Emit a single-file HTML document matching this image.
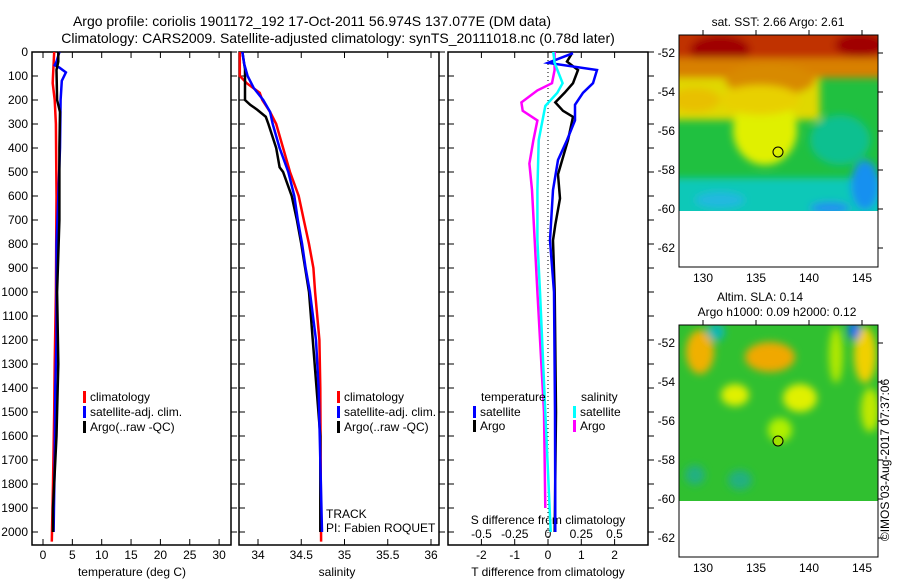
<!DOCTYPE html>
<html><head><meta charset="utf-8"><style>
body{margin:0;background:#fff;}
svg{display:block;font-family:"Liberation Sans",sans-serif;font-size:12px;}
</style></head><body>
<svg id="fig" width="900" height="580" viewBox="0 0 900 580" xmlns="http://www.w3.org/2000/svg">
<defs>
<filter id="blur1" x="-20%" y="-20%" width="140%" height="140%"><feGaussianBlur stdDeviation="4"/></filter>
<filter id="blur2" x="-20%" y="-20%" width="140%" height="140%"><feGaussianBlur stdDeviation="4"/></filter>
<clipPath id="c1"><rect x="679" y="35" width="199" height="176"/></clipPath>
<clipPath id="c2"><rect x="679" y="325" width="199" height="176"/></clipPath>
</defs>
<text x="312" y="26" text-anchor="middle" font-size="14">Argo profile: coriolis 1901172_192 17-Oct-2011 56.974S 137.077E (DM data)</text>
<text x="338" y="43" text-anchor="middle" font-size="14">Climatology: CARS2009. Satellite-adjusted climatology: synTS_20111018.nc (0.78d later)</text>

<!-- Map 1 -->
<g>
<g clip-path="url(#c1)">
<rect x="679" y="35" width="199" height="176" fill="#20c040"/>
<g filter="url(#blur1)">
<rect x="660" y="70" width="160" height="50" fill="#e0d800"/>
<rect x="660" y="20" width="240" height="40" fill="#c03000"/>
<ellipse cx="720" cy="50" rx="30" ry="15" fill="#a00000"/>
<ellipse cx="860" cy="45" rx="25" ry="12" fill="#a00000"/>
<rect x="660" y="58" width="240" height="20" fill="#d88000"/>
<ellipse cx="770" cy="80" rx="45" ry="16" fill="#d88a00"/>
<ellipse cx="765" cy="130" rx="32" ry="35" fill="#e0f000"/>
<ellipse cx="760" cy="100" rx="40" ry="15" fill="#e8d000"/>
<ellipse cx="695" cy="100" rx="25" ry="12" fill="#e8c000"/>
<rect x="660" y="178" width="240" height="45" fill="#10c8b8"/>
<ellipse cx="865" cy="185" rx="14" ry="25" fill="#1890f0"/>
<ellipse cx="840" cy="140" rx="30" ry="25" fill="#10c090"/>
<ellipse cx="830" cy="208" rx="20" ry="6" fill="#2090f0"/>
<ellipse cx="720" cy="200" rx="25" ry="8" fill="#20b8e0"/>
</g>
</g>
<circle cx="778" cy="152" r="5" fill="none" stroke="#000"/>
<rect x="679" y="35" width="199" height="232" fill="none" stroke="#000"/>
<text x="778" y="26" text-anchor="middle">sat. SST: 2.66 Argo: 2.61</text>
</g>
<!-- Map 2 -->
<g>
<g clip-path="url(#c2)">
<rect x="679" y="325" width="199" height="176" fill="#30c030"/>
<g filter="url(#blur2)">
<ellipse cx="700" cy="352" rx="14" ry="22" fill="#f0b000"/>
<ellipse cx="770" cy="357" rx="25" ry="15" fill="#f0a800"/>
<ellipse cx="735" cy="395" rx="14" ry="11" fill="#e0f000"/>
<ellipse cx="800" cy="398" rx="17" ry="14" fill="#e0f000"/>
<ellipse cx="780" cy="430" rx="12" ry="12" fill="#b0f000"/>
<ellipse cx="865" cy="355" rx="11" ry="28" fill="#f0d000"/>
<ellipse cx="836" cy="355" rx="7" ry="28" fill="#b0e800"/>
<ellipse cx="870" cy="410" rx="9" ry="22" fill="#c0e800"/>
<ellipse cx="716" cy="332" rx="9" ry="9" fill="#10b8b0"/>
<ellipse cx="854" cy="330" rx="6" ry="10" fill="#1070f0"/>
<ellipse cx="695" cy="475" rx="10" ry="10" fill="#20b080"/>
<ellipse cx="740" cy="480" rx="12" ry="10" fill="#20b080"/>
</g>
</g>
<circle cx="778" cy="441" r="5" fill="#a0e000" stroke="#000"/>
<rect x="679" y="325" width="199" height="232" fill="none" stroke="#000"/>
<text x="760" y="301" text-anchor="middle">Altim. SLA: 0.14</text>
<text x="777" y="316" text-anchor="middle">Argo h1000: 0.09 h2000: 0.12</text>
</g>
<text transform="translate(889,460) rotate(-90)" text-anchor="middle">©IMOS 03-Aug-2017 07:37:06</text>
<g id="g"></g>
</svg>
<script>
// ---- data ----
const depthTicks=[0,100,200,300,400,500,600,700,800,900,1000,1100,1200,1300,1400,1500,1600,1700,1800,1900,2000];
const tempTicks=[0,5,10,15,20,25,30];
const salTicks=[34,34.5,35,35.5,36];
const tdiffTicks=[-2,-1,0,1,2];
const sdiffTicks=[-0.5,-0.25,0,0.25,0.5];
const tempClimDepth=[0,100,130,200,300,600,1000,1300,1500,1800,2040];
const tempClim=[1.9,1.7,1.65,2.0,2.2,2.3,2.2,2.0,1.9,1.7,1.5];
const tempSatDepth=[0,40,55,65,85,120,200,400,600,800,1200,1400,1700,2000];
const tempSat=[2.8,2.3,2.0,2.8,3.9,3.2,3.0,2.9,2.6,2.3,2.3,2.1,2.0,1.8];
const tempArgoDepth=[0,40,75,200,250,400,700,1000,1300,1600,1900,2000];
const tempArgo=[2.6,2.6,2.3,2.4,2.9,2.8,2.8,2.4,2.6,2.3,1.7,1.7];
const salClimDepth=[0,100,130,170,200,250,300,400,500,600,700,800,900,1000,1200,1400,2040];
const salClim=[33.79,33.79,33.87,34.02,34.05,34.14,34.21,34.29,34.37,34.47,34.53,34.59,34.64,34.66,34.71,34.72,34.73];
const salSatDepth=[0,50,100,150,200,250,300,400,500,600,700,800,900,1000,1200,1400,2000];
const salSat=[33.82,33.84,33.88,33.95,34.06,34.14,34.17,34.25,34.35,34.42,34.46,34.51,34.55,34.6,34.67,34.7,34.74];
const salArgoDepth=[0,50,70,200,220,240,270,300,400,480,500,600,700,800,1000,1600,2000];
const salArgo=[33.82,33.84,33.85,33.85,33.91,33.99,34.09,34.12,34.21,34.25,34.29,34.39,34.45,34.5,34.59,34.72,34.72];
const tdSatDepth=[5,45,75,130,170,220,285,367,450,575,785,1000,1500,2000];
const tdSat=[0.75,0,1.47,1.35,1.05,0.81,0.81,0.57,0.3,0.15,0.06,0.18,0.21,0.22];
const tdArgoDepth=[5,40,75,130,170,210,245,270,367,510,610,720,785,1000,1500,2000];
const tdArgo=[0.72,0.57,0.9,0.75,0.5,0.22,0.45,0.75,0.6,0.3,0.36,0.22,0.15,0.2,0.24,0.2];
const sdSatDepth=[0,45,130,170,225,367,575,785,1000,1500,2000];
const sdSat=[0.04,0.05,0.11,0.07,-0.02,-0.07,-0.08,-0.08,-0.06,-0.02,0.02];
const sdArgoDepth=[0,75,130,160,210,245,285,367,465,575,785,1000,1500,1900];
const sdArgo=[0.05,0.05,0.03,-0.08,-0.2,-0.19,-0.08,-0.11,-0.14,-0.12,-0.1,-0.08,-0.03,-0.02];
const latTicks=[-52,-54,-56,-58,-60,-62];
const lonTicks=[130,135,140,145];
// ---- axes ----
const NS="http://www.w3.org/2000/svg";
const G=document.getElementById('g');
function mk(t,a,p){const e=document.createElementNS(NS,t);for(const k in a)e.setAttribute(k,a[k]);(p||G).appendChild(e);return e;}
const yD=d=>52+d*0.24;
const xT=v=>43+v*5.87;
const xS=v=>258+(v-34)*86.5;
const xTD=v=>548+v*33.3;
const xSD=v=>548+v*133;
const panels=[[32,231],[239,439],[448,648]];
panels.forEach((p,i)=>{
 const r=mk('rect',{x:p[0],y:52,width:p[1]-p[0],height:493,fill:'none',stroke:'#000','stroke-width':1.5});
 
 
 depthTicks.forEach(d=>{mk('line',{x1:p[0],x2:p[0]+6,y1:yD(d),y2:yD(d),stroke:'#000'});
  mk('line',{x1:p[1],x2:p[1]+6,y1:yD(d),y2:yD(d),stroke:'#000'});});
});
depthTicks.forEach(d=>{const t=mk('text',{x:28,y:yD(d)+4,'text-anchor':'end'});t.textContent=d;
 
 });
function xaxis(ticks,f,y0,lab,p){ticks.forEach(v=>{const x=f(v);mk('line',{x1:x,x2:x,y1:545,y2:539,stroke:'#000'});mk('line',{x1:x,x2:x,y1:52,y2:58,stroke:'#000'});
 const t=mk('text',{x:x,y:y0,'text-anchor':'middle'});t.textContent=lab?lab(v):v;
 
 });}
xaxis(tempTicks,xT,559);xaxis(salTicks,xS,559);xaxis(tdiffTicks,xTD,559);
sdiffTicks.forEach(v=>{const t=mk('text',{x:xSD(v),y:538,'text-anchor':'middle'});t.textContent=v;
 
 });
function lab(x,y,s,name,anchor){const t=mk('text',{x:x,y:y,'text-anchor':anchor||'middle'});t.textContent=s;
 
 return t;}
lab(132,576,'temperature (deg C)','temp-axis-title');
lab(337,576,'salinity','salinity-axis-title');
lab(548,576,'T difference from climatology','tdiff-axis-title');
lab(548,524,'S difference from climatology','sdiff-axis-title');
lab(326,518,'TRACK','track-label','start');
lab(326,532,'PI: Fabien ROQUET','pi-label','start');
mk('line',{x1:548,x2:548,y1:52,y2:545,stroke:'#000','stroke-dasharray':'1,3'});
function line(ds,vs,fx,col,name){const pts=ds.map((d,i)=>fx(vs[i]).toFixed(1)+','+yD(d).toFixed(1)).join(' ');
 const l=mk('polyline',{points:pts,fill:'none',stroke:col,'stroke-width':2.5});
 
 }
line(tempClimDepth,tempClim,xT,'#f00','temp-climatology-line');
line(tempSatDepth,tempSat,xT,'#00f','temp-satellite-line');
line(tempArgoDepth,tempArgo,xT,'#000','temp-argo-line');
line(salClimDepth,salClim,xS,'#f00','sal-climatology-line');
line(salArgoDepth,salArgo,xS,'#000','sal-argo-line');
line(salSatDepth,salSat,xS,'#00f','sal-satellite-line');
line(sdArgoDepth,sdArgo,xSD,'#f0f','sdiff-argo-line');
line(tdArgoDepth,tdArgo,xTD,'#000','tdiff-argo-line');
line(tdSatDepth,tdSat,xTD,'#00f','tdiff-satellite-line');
line(sdSatDepth,sdSat,xSD,'#0ff','sdiff-satellite-line');
function leg(x,y,col,s,name){mk('rect',{x:x,y:y-10,width:3,height:12,fill:col});const t=lab(x+7,y,s,name,'start');}
leg(83,401,'#f00','climatology','legend-climatology');
leg(83,416,'#00f','satellite-adj. clim.','legend-satellite');
leg(83,431,'#000','Argo(..raw -QC)','legend-argo');
leg(337,401,'#f00','climatology','legend-climatology-2');
leg(337,416,'#00f','satellite-adj. clim.','legend-satellite-2');
leg(337,431,'#000','Argo(..raw -QC)','legend-argo-2');
lab(481,401,'temperature','legend-temperature-heading','start');
lab(581,401,'salinity','legend-salinity-heading','start');
leg(473,416,'#00f','satellite','legend-t-satellite');
leg(473,430,'#000','Argo','legend-t-argo');
leg(573,416,'#0ff','satellite','legend-s-satellite');
leg(573,430,'#f0f','Argo','legend-s-argo');
// map axes
[0,290].forEach(off=>{
 latTicks.forEach(v=>{const y=53+(-52-v)*19.5+off;mk('line',{x1:878,x2:883,y1:y,y2:y,stroke:'#000'});
  const t=mk('text',{x:675,y:y+4,'text-anchor':'end'});t.textContent=v;
  
  });
 lonTicks.forEach(v=>{const x=703+(v-130)*10.6;mk('line',{x1:x,x2:x,y1:35+off,y2:30+off,stroke:'#000'});
  const t=mk('text',{x:x,y:282+off,'text-anchor':'middle'});t.textContent=v;
  
  });
});
</script>
</body></html>
